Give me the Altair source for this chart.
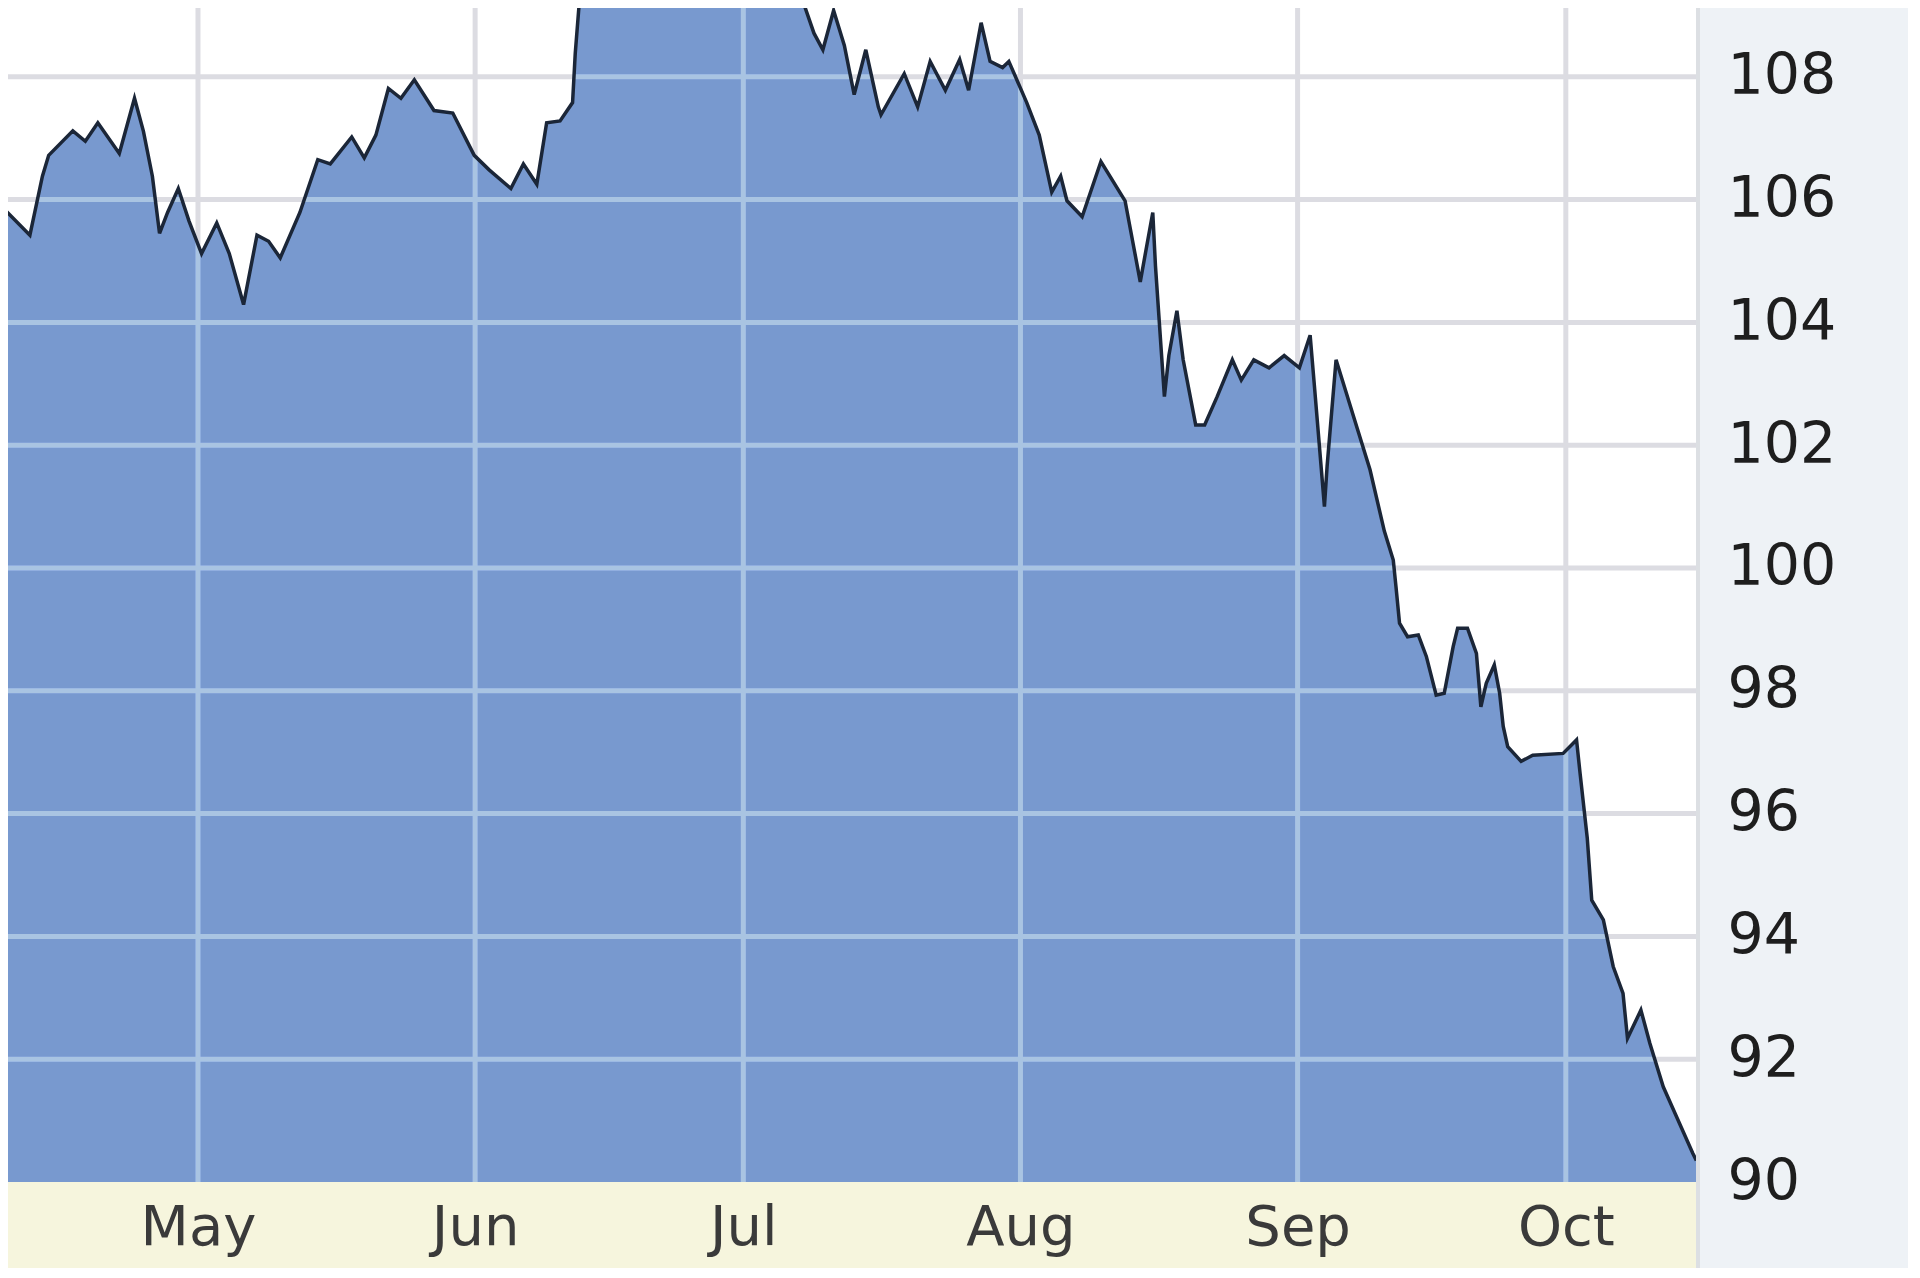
import altair as alt
import pandas as pd

# ---- data ----------------------------------------------------------------
# days after 1 May 2008 and the plotted level
day_offset = [
    -22.2, -18.8, -17.4, -16.7, -14.0, -12.6, -11.2, -8.8, -7.1, -6.1,
    -5.1, -4.3, -3.4, -2.2, -1.0, 0.4, 2.1, 3.5, 5.1, 6.6,
    7.9, 9.2, 11.4, 13.4, 14.8, 17.2, 18.6, 19.9, 21.3, 22.7,
    24.2, 26.4, 28.5, 30.9, 32.6, 35.0, 36.4, 37.9, 39.0, 40.5,
    41.9, 42.2, 42.7, 44.0, 50.0, 56.0, 62.0, 66.5, 67.5, 68.9,
    69.9, 71.1, 72.3, 73.4, 74.7, 76.1, 76.4, 79.0, 80.5, 81.9,
    83.6, 85.2, 86.2, 87.6, 88.6, 90.0, 90.7, 92.7, 94.1, 95.5,
    96.5, 97.2, 98.9, 101.0, 103.7, 105.4, 106.8, 107.1, 108.1, 108.6,
    109.5, 110.2, 111.6, 112.6, 114.0, 115.7, 116.7, 118.1, 119.8, 121.5,
    123.2, 124.4, 124.9, 126.0, 126.3, 127.3, 128.0, 129.7, 131.1, 132.7,
    133.7, 134.0, 134.4, 135.3, 136.5, 137.4, 138.5, 139.4, 140.4, 140.9,
    142.0, 143.0, 143.5, 144.1, 145.0, 145.6, 146.0, 146.5, 148.0, 149.3,
    152.7, 154.2, 154.6, 155.4, 155.9, 157.2, 158.3, 159.4, 159.9, 161.4,
    162.4, 163.9, 165.4, 167.2, 167.6,
]
level = [
    105.92, 105.42, 106.38, 106.72, 107.12, 106.95, 107.25, 106.75, 107.65, 107.11,
    106.38, 105.45, 105.79, 106.18, 105.65, 105.12, 105.62, 105.12, 104.29, 105.42,
    105.32, 105.05, 105.79, 106.65, 106.58, 107.02, 106.68, 107.05, 107.81, 107.65,
    107.95, 107.45, 107.41, 106.72, 106.48, 106.18, 106.58, 106.25, 107.25, 107.28,
    107.58, 108.38, 109.30, 110.00, 110.60, 110.80, 110.50, 110.00, 109.30, 108.71,
    108.44, 109.08, 108.51, 107.71, 108.44, 107.51, 107.38, 108.05, 107.51, 108.25,
    107.78, 108.28, 107.78, 108.88, 108.25, 108.15, 108.25, 107.58, 107.05, 106.12,
    106.38, 105.98, 105.72, 106.62, 105.98, 104.66, 105.79, 104.92, 102.79, 103.46,
    104.19, 103.39, 102.33, 102.33, 102.79, 103.39, 103.06, 103.39, 103.26, 103.46,
    103.26, 103.79, 102.93, 101.00, 101.66, 103.39, 103.06, 102.26, 101.60, 100.60,
    100.13, 99.70, 99.10, 98.88, 98.91, 98.56, 97.93, 97.96, 98.72, 99.02,
    99.02, 98.61, 97.74, 98.12, 98.42, 97.96, 97.42, 97.09, 96.85, 96.95,
    96.98, 97.20, 96.65, 95.60, 94.59, 94.27, 93.51, 93.07, 92.34, 92.80,
    92.26, 91.55, 91.06, 90.47, 90.35,
]
month_starts = [
    "2008-05-01T00:00:00", "2008-06-01T00:00:00", "2008-07-01T00:00:00",
    "2008-08-01T00:00:00", "2008-09-01T00:00:00", "2008-10-01T00:00:00",
]
axis_levels = [90, 92, 94, 96, 98, 100, 102, 104, 106, 108]
grid_levels = [92, 94, 96, 98, 100, 102, 104, 106, 108]

# ---- tables ----------------------------------------------------------------
base = pd.Timestamp("2008-05-01")
df = pd.DataFrame({"date": base + pd.to_timedelta(day_offset, unit="D"), "level": level})
vdf = pd.DataFrame({"date": pd.to_datetime(month_starts)})
hdf = pd.DataFrame({"level": grid_levels})

W, H = 1688, 1174
AXIS_RIGHT, AXIS_BOTTOM = 212, 86

AREA = "#7899cf"
LINE = "#1b2638"
GRID_LIGHT = "#a9c4ef"
GRID_GREY = "#dcdce2"
CREAM = "#f6f5dd"
PANEL = "#eef2f6"

xs = alt.Scale(
    domain=[
        alt.DateTime(year=2008, month=4, date=9, hours=18),
        alt.DateTime(year=2008, month=10, date=15, hours=13, minutes=30),
    ]
)
ys = alt.Scale(domain=[90, 109.12], nice=False, zero=False)

xaxis = alt.Axis(
    values=[alt.DateTime(year=2008, month=m, date=1) for m in range(5, 11)],
    format="%b",
    title=None,
    grid=False,
    domain=False,
    ticks=False,
    tickSize=0,
    labelFlush=False,
    labelFont="DejaVu Sans",
    labelFontSize=56,
    labelColor="#3a3a3a",
    labelPadding=62,
    labelBaseline="alphabetic",
    labelAlign="center",
    zindex=2,
)
yaxis = alt.Axis(
    orient="right",
    values=axis_levels,
    format="d",
    title=None,
    grid=False,
    domain=False,
    ticks=False,
    tickSize=0,
    labelFont="DejaVu Sans",
    labelFontSize=57,
    labelColor="#1e1e1e",
    labelPadding=31,
    labelAlign="left",
    labelBaseline="middle",
    labelOverlap=False,
    zindex=2,
)

X = alt.X("date:T", scale=xs, axis=xaxis)
Y = alt.Y("level:Q", scale=ys, axis=yaxis)

one = pd.DataFrame({"k": [0]})

cream = alt.Chart(one).mark_rect(color=CREAM).encode(
    x=alt.value(0), x2=alt.value(W), y=alt.value(H), y2=alt.value(H + AXIS_BOTTOM)
)

area = alt.Chart(df).mark_area(color=AREA, opacity=1, clip=True).encode(x=X, y=Y)

light_v = alt.Chart(vdf).mark_rule(color=GRID_LIGHT, strokeWidth=5, blend="lighten").encode(x=X)
light_h = alt.Chart(hdf).mark_rule(color=GRID_LIGHT, strokeWidth=5, blend="lighten").encode(y=Y)
grey_v = alt.Chart(vdf).mark_rule(color=GRID_GREY, strokeWidth=5, blend="darken").encode(x=X)
grey_h = alt.Chart(hdf).mark_rule(color=GRID_GREY, strokeWidth=5, blend="darken").encode(y=Y)

line = alt.Chart(df).mark_line(color=LINE, strokeWidth=3.5, clip=True).encode(x=X, y=Y)

border = alt.Chart(one).mark_rule(color="#dcdfe3", strokeWidth=4).encode(
    x=alt.value(W + 2), y=alt.value(0), y2=alt.value(H + AXIS_BOTTOM)
)

chart = (
    alt.layer(cream, area, light_v, light_h, grey_v, grey_h, line, border)
    .properties(
        width=W,
        height=H,
        autosize=alt.AutoSizeParams(type="none"),
        padding={"left": 0, "top": 0, "right": AXIS_RIGHT, "bottom": AXIS_BOTTOM},
        background=PANEL,
    )
    .configure_view(fill="white", strokeWidth=0)
)

chart.save("out.html", embed_options={"renderer": "svg", "actions": False})
